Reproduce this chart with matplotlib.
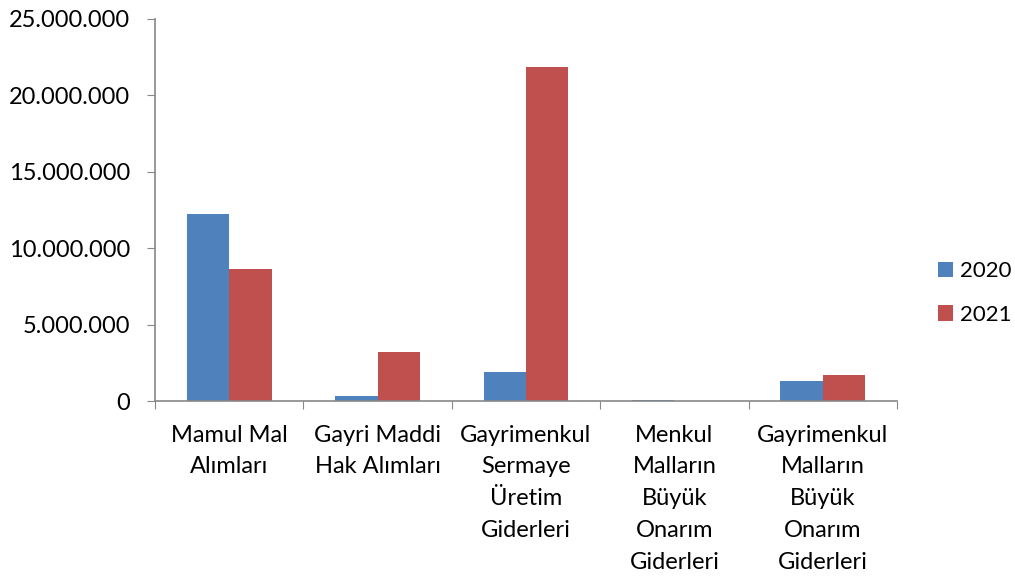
import matplotlib
matplotlib.use("Agg")
import matplotlib.pyplot as plt
import numpy as np
from matplotlib.ticker import FuncFormatter, FixedLocator

plt.rcParams['font.family'] = ['Lato', 'DejaVu Sans']

categories = ["Mamul Mal\nAlımları", "Gayri Maddi\nHak Alımları",
              "Gayrimenkul\nSermaye\nÜretim\nGiderleri",
              "Menkul\nMalların\nBüyük\nOnarım\nGiderleri",
              "Gayrimenkul\nMalların\nBüyük\nOnarım\nGiderleri"]
series_names = ["2020", "2021"]
values_2020 = [12230000, 330000, 1920000, 40000, 1280000]
values_2021 = [8620000, 3230000, 21880000, 20000, 1730000]
colors = ["#4F81BD", "#C0504D"]

fig = plt.figure(figsize=(10.15, 5.81), dpi=100)
ax = fig.add_axes([0.1527, 0.3098, 0.8837 - 0.1527, 0.9673 - 0.3098])

x = np.arange(len(categories))
w = 1 / 3.5
ax.bar(x - w / 2, values_2020, width=w, color=colors[0], label=series_names[0])
ax.bar(x + w / 2, values_2021, width=w, color=colors[1], label=series_names[1])

ax.set_xlim(-0.5, len(categories) - 0.5)
ax.set_ylim(0, 25000000)
ax.set_yticks(np.arange(0, 25000001, 5000000))
ax.yaxis.set_major_formatter(FuncFormatter(lambda v, p: f"{int(v):,}".replace(",", ".")))

ax.xaxis.set_major_locator(FixedLocator(np.arange(-0.5, len(categories), 1.0)))
ax.set_xticklabels([])
ax.xaxis.set_minor_locator(FixedLocator(x))
ax.set_xticklabels(categories, minor=True)
ax.tick_params(axis='x', which='minor', length=0, pad=17, labelsize=17, colors='black')
ax.tick_params(axis='x', which='major', length=6, color='#888888', direction='out')
ax.tick_params(axis='y', length=6, color='#888888', labelsize=17, pad=12)
for lbl in ax.get_xticklabels(minor=True):
    lbl.set_linespacing(1.64)

for s in ['top', 'right']:
    ax.spines[s].set_visible(False)
for s in ['left', 'bottom']:
    ax.spines[s].set_color('#888888')
    ax.spines[s].set_linewidth(1.2)

leg = fig.legend(loc='center left', bbox_to_anchor=(0.924, 0.4957), frameon=False,
                 fontsize=16, handlelength=0.7, handleheight=0.7,
                 handletextpad=0.3, labelspacing=1.05, borderaxespad=0, borderpad=0)

fig.savefig("out.png", dpi=100)
